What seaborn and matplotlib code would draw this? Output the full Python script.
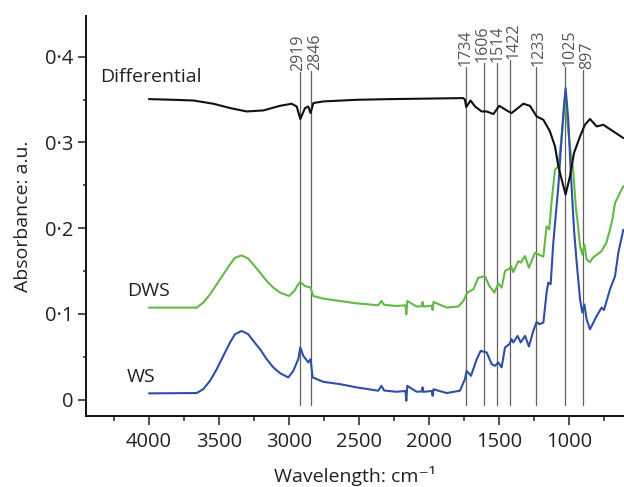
import matplotlib
matplotlib.use("Agg")
import matplotlib.pyplot as plt
import seaborn as sns
import pandas as pd
from matplotlib.ticker import MultipleLocator, FixedLocator
from matplotlib.transforms import offset_copy

# ---------------- data ----------------
ws_x = [4000, 3659, 3612, 3564, 3516, 3469, 3421, 3386, 3338, 3291, 3255, 3207, 3159, 3112, 3064,
        3005, 2969, 2934, 2919, 2898, 2862, 2846, 2831,
        2755, 2636, 2517, 2362, 2340, 2320, 2231, 2168, 2162, 2155, 2088, 2050, 2046, 2040, 1980,
        1974, 1968, 1874, 1779, 1743, 1731, 1700, 1659, 1631, 1588, 1552, 1529, 1505, 1481, 1457,
        1426, 1410, 1398, 1367, 1345, 1314, 1286, 1255, 1231, 1212, 1183, 1160, 1148, 1131, 1112,
        1076, 1052, 1036, 1024, 1005, 988, 964, 945, 921, 905, 890, 874, 850, 802, 767, 750,
        707, 671, 648, 612]
ws_y = [0.0072, 0.0076, 0.0122, 0.0219, 0.0355, 0.051, 0.0666, 0.0762, 0.0801, 0.0762, 0.0685, 0.0588,
        0.0471, 0.0375, 0.0308, 0.0258, 0.0335, 0.0471, 0.0608, 0.051,
        0.0433, 0.0471, 0.0258, 0.0207, 0.018, 0.0142, 0.0103, 0.016, 0.0105, 0.0091, 0.0100, -0.0014,
        0.016, 0.0091, 0.0095, 0.0142, 0.0090, 0.0100, 0.0044, 0.012, 0.0076, 0.0103, 0.0239, 0.0335,
        0.0277, 0.0471, 0.0568, 0.0549, 0.0413, 0.0393, 0.0433, 0.0375, 0.0608, 0.0646, 0.0704, 0.0666,
        0.0743, 0.0666, 0.0743, 0.0619, 0.0801, 0.0906, 0.0879, 0.0898, 0.1248, 0.1364, 0.1345, 0.183,
        0.249, 0.307, 0.342, 0.3634, 0.3265, 0.268, 0.198, 0.160, 0.117, 0.1015, 0.111, 0.0937, 0.082,
        0.0976, 0.1073, 0.1045, 0.1286, 0.144, 0.171, 0.198]

dws_x = [4000, 3659, 3612, 3564, 3516, 3469, 3421, 3386, 3338, 3291, 3255, 3207, 3159, 3112, 3064,
         3000, 2962, 2934, 2919, 2886, 2846, 2826,
         2755, 2636, 2517, 2362, 2340, 2320, 2231, 2168, 2162, 2155, 2088, 2050, 2046, 2040, 1980,
         1974, 1968, 1874, 1791, 1755, 1726, 1683, 1648, 1600, 1569, 1533, 1505, 1481, 1457, 1426,
         1414, 1398, 1362, 1345, 1314, 1286, 1243, 1219, 1183, 1160, 1141, 1125, 1100, 1076, 1052,
         1030, 993, 970, 950, 940, 921, 905, 890, 874, 850, 830, 767, 733, 707, 690, 671, 648, 612]
dws_y = [0.1073, 0.1073, 0.1131, 0.1228, 0.1345, 0.1461, 0.1577, 0.1655, 0.1682, 0.1644, 0.1577, 0.1481,
         0.1383, 0.1306, 0.1248, 0.1208, 0.1267, 0.1345, 0.1372,
         0.1325, 0.1306, 0.1208, 0.1178, 0.115, 0.1123, 0.110, 0.115, 0.1105, 0.1092, 0.1100, 0.0995,
         0.115, 0.1085, 0.1090, 0.1139, 0.1085, 0.1095, 0.1045, 0.1139, 0.1073, 0.1085, 0.115, 0.1248,
         0.1286, 0.1422, 0.144, 0.1325, 0.1248, 0.1356, 0.1306, 0.15, 0.1527, 0.1558, 0.1488, 0.1616,
         0.1597, 0.1674, 0.1539, 0.1713, 0.1694, 0.1667, 0.2023, 0.1985, 0.2296, 0.2683, 0.272, 0.307,
         0.350, 0.295, 0.268, 0.222, 0.21, 0.179, 0.1694, 0.181, 0.1636, 0.1604, 0.1655, 0.1732, 0.183,
         0.1985, 0.21, 0.2296, 0.237, 0.249]

diff_x = [4000, 3826, 3683, 3540, 3421, 3302, 3183, 3064, 2981, 2945, 2919, 2886, 2862, 2846, 2826,
          2755, 2517, 2279,
          1755, 1743, 1734, 1703, 1671, 1624, 1588, 1540, 1498, 1445, 1410, 1326, 1279, 1231, 1183,
          1136, 1100, 1076, 1052, 1024, 993, 964, 921, 886, 850, 802, 755, 683, 612]
diff_y = [0.3506, 0.3498, 0.349, 0.3452, 0.3402, 0.3362, 0.3374, 0.3428, 0.3452, 0.342, 0.3274, 0.340,
          0.342, 0.3343, 0.346,
          0.3479, 0.3498, 0.3506, 0.3518, 0.3498, 0.3413, 0.349, 0.342, 0.3362, 0.3362, 0.3332, 0.3428,
          0.3374, 0.3343, 0.3452, 0.3428, 0.3304, 0.3265, 0.3129, 0.2955, 0.2722, 0.2567, 0.2392, 0.2605,
          0.2878, 0.3071, 0.3207, 0.3274, 0.3187, 0.3207, 0.3129, 0.3052]

peaks = [2919, 2846, 1734, 1606, 1514, 1422, 1233, 1025, 897]
series_names = ["Differential", "DWS", "WS"]
y_ticks = [0, 0.1, 0.2, 0.3, 0.4]
y_tick_labels = ["0", "0\u00b71", "0\u00b72", "0\u00b73", "0\u00b74"]
x_ticks = [4000, 3500, 3000, 2500, 2000, 1500, 1000]

# label placement (style): horizontal nudge in px, top of marker line in data units
label_dx = [-2.5, 4.5, -0.5, -2, 0.5, 4, 2.5, 4, 3.5]
line_top = [0.3824, 0.3836, 0.3882, 0.3929, 0.3929, 0.3964, 0.3882, 0.3882, 0.3847]

# ---------------- style ----------------
sns.set_style("ticks")
plt.rcParams["font.family"] = ["Open Sans", "DejaVu Sans"]
TXT = "#222222"

fig = plt.figure(figsize=(6.24, 4.87), dpi=100)
ax = fig.add_axes([86 / 624, 1 - 416 / 487, 1 - 86 / 624, 400 / 487])

df_ws = pd.DataFrame({"x": ws_x, "y": ws_y})
df_dws = pd.DataFrame({"x": dws_x, "y": dws_y})
df_diff = pd.DataFrame({"x": diff_x, "y": diff_y})

# vertical peak markers
for p, dx, top in zip(peaks, label_dx, line_top):
    ax.plot([p, p], [-0.0064, top], color="#606060", lw=0.9, zorder=1)
    tr = offset_copy(ax.transData, fig=fig, x=dx, y=1, units="dots")
    ax.text(p, top, str(p), rotation=90, ha="center", va="bottom",
            fontsize=11.5, color="#555555", transform=tr)

sns.lineplot(data=df_ws, x="x", y="y", ax=ax, color="#2f4fa6", lw=1.5, estimator=None, zorder=3)
sns.lineplot(data=df_dws, x="x", y="y", ax=ax, color="#62b946", lw=1.5, estimator=None, zorder=2)
sns.lineplot(data=df_diff, x="x", y="y", ax=ax, color="#111111", lw=1.5, estimator=None, zorder=4)

ax.text(4350, 0.3766, series_names[0], ha="left", va="center", fontsize=14, color=TXT)
ax.text(4157, 0.1263, series_names[1], ha="left", va="center", fontsize=14, color=TXT)
ax.text(4157, 0.0262, series_names[2], ha="left", va="center", fontsize=14, color=TXT)

ax.set_xlim(4450, 607)
ax.set_ylim(-0.0192, 0.4476)
ax.xaxis.set_major_locator(FixedLocator(x_ticks))
ax.xaxis.set_minor_locator(MultipleLocator(250))
ax.yaxis.set_major_locator(FixedLocator(y_ticks))
ax.set_yticklabels(y_tick_labels)
ax.yaxis.set_minor_locator(MultipleLocator(0.05))

ax.tick_params(axis="both", which="major", labelsize=14.5, labelcolor=TXT, width=1.1,
               color="#222222")
ax.tick_params(axis="x", which="major", length=6.5, pad=5)
ax.tick_params(axis="y", which="major", length=6, pad=3)
ax.tick_params(axis="x", which="minor", length=3.5, width=1.1)
ax.tick_params(axis="y", which="minor", length=2, width=1.1)

sns.despine(ax=ax)
for s in ("left", "bottom"):
    ax.spines[s].set_linewidth(1.4)
    ax.spines[s].set_color("#111111")

ax.set_xlabel("Wavelength: cm\u207b\u00b9", fontsize=14, color=TXT, labelpad=10)
ax.set_ylabel("Absorbance: a.u.", fontsize=14, color=TXT, labelpad=9)

fig.savefig("out.png", dpi=100)
